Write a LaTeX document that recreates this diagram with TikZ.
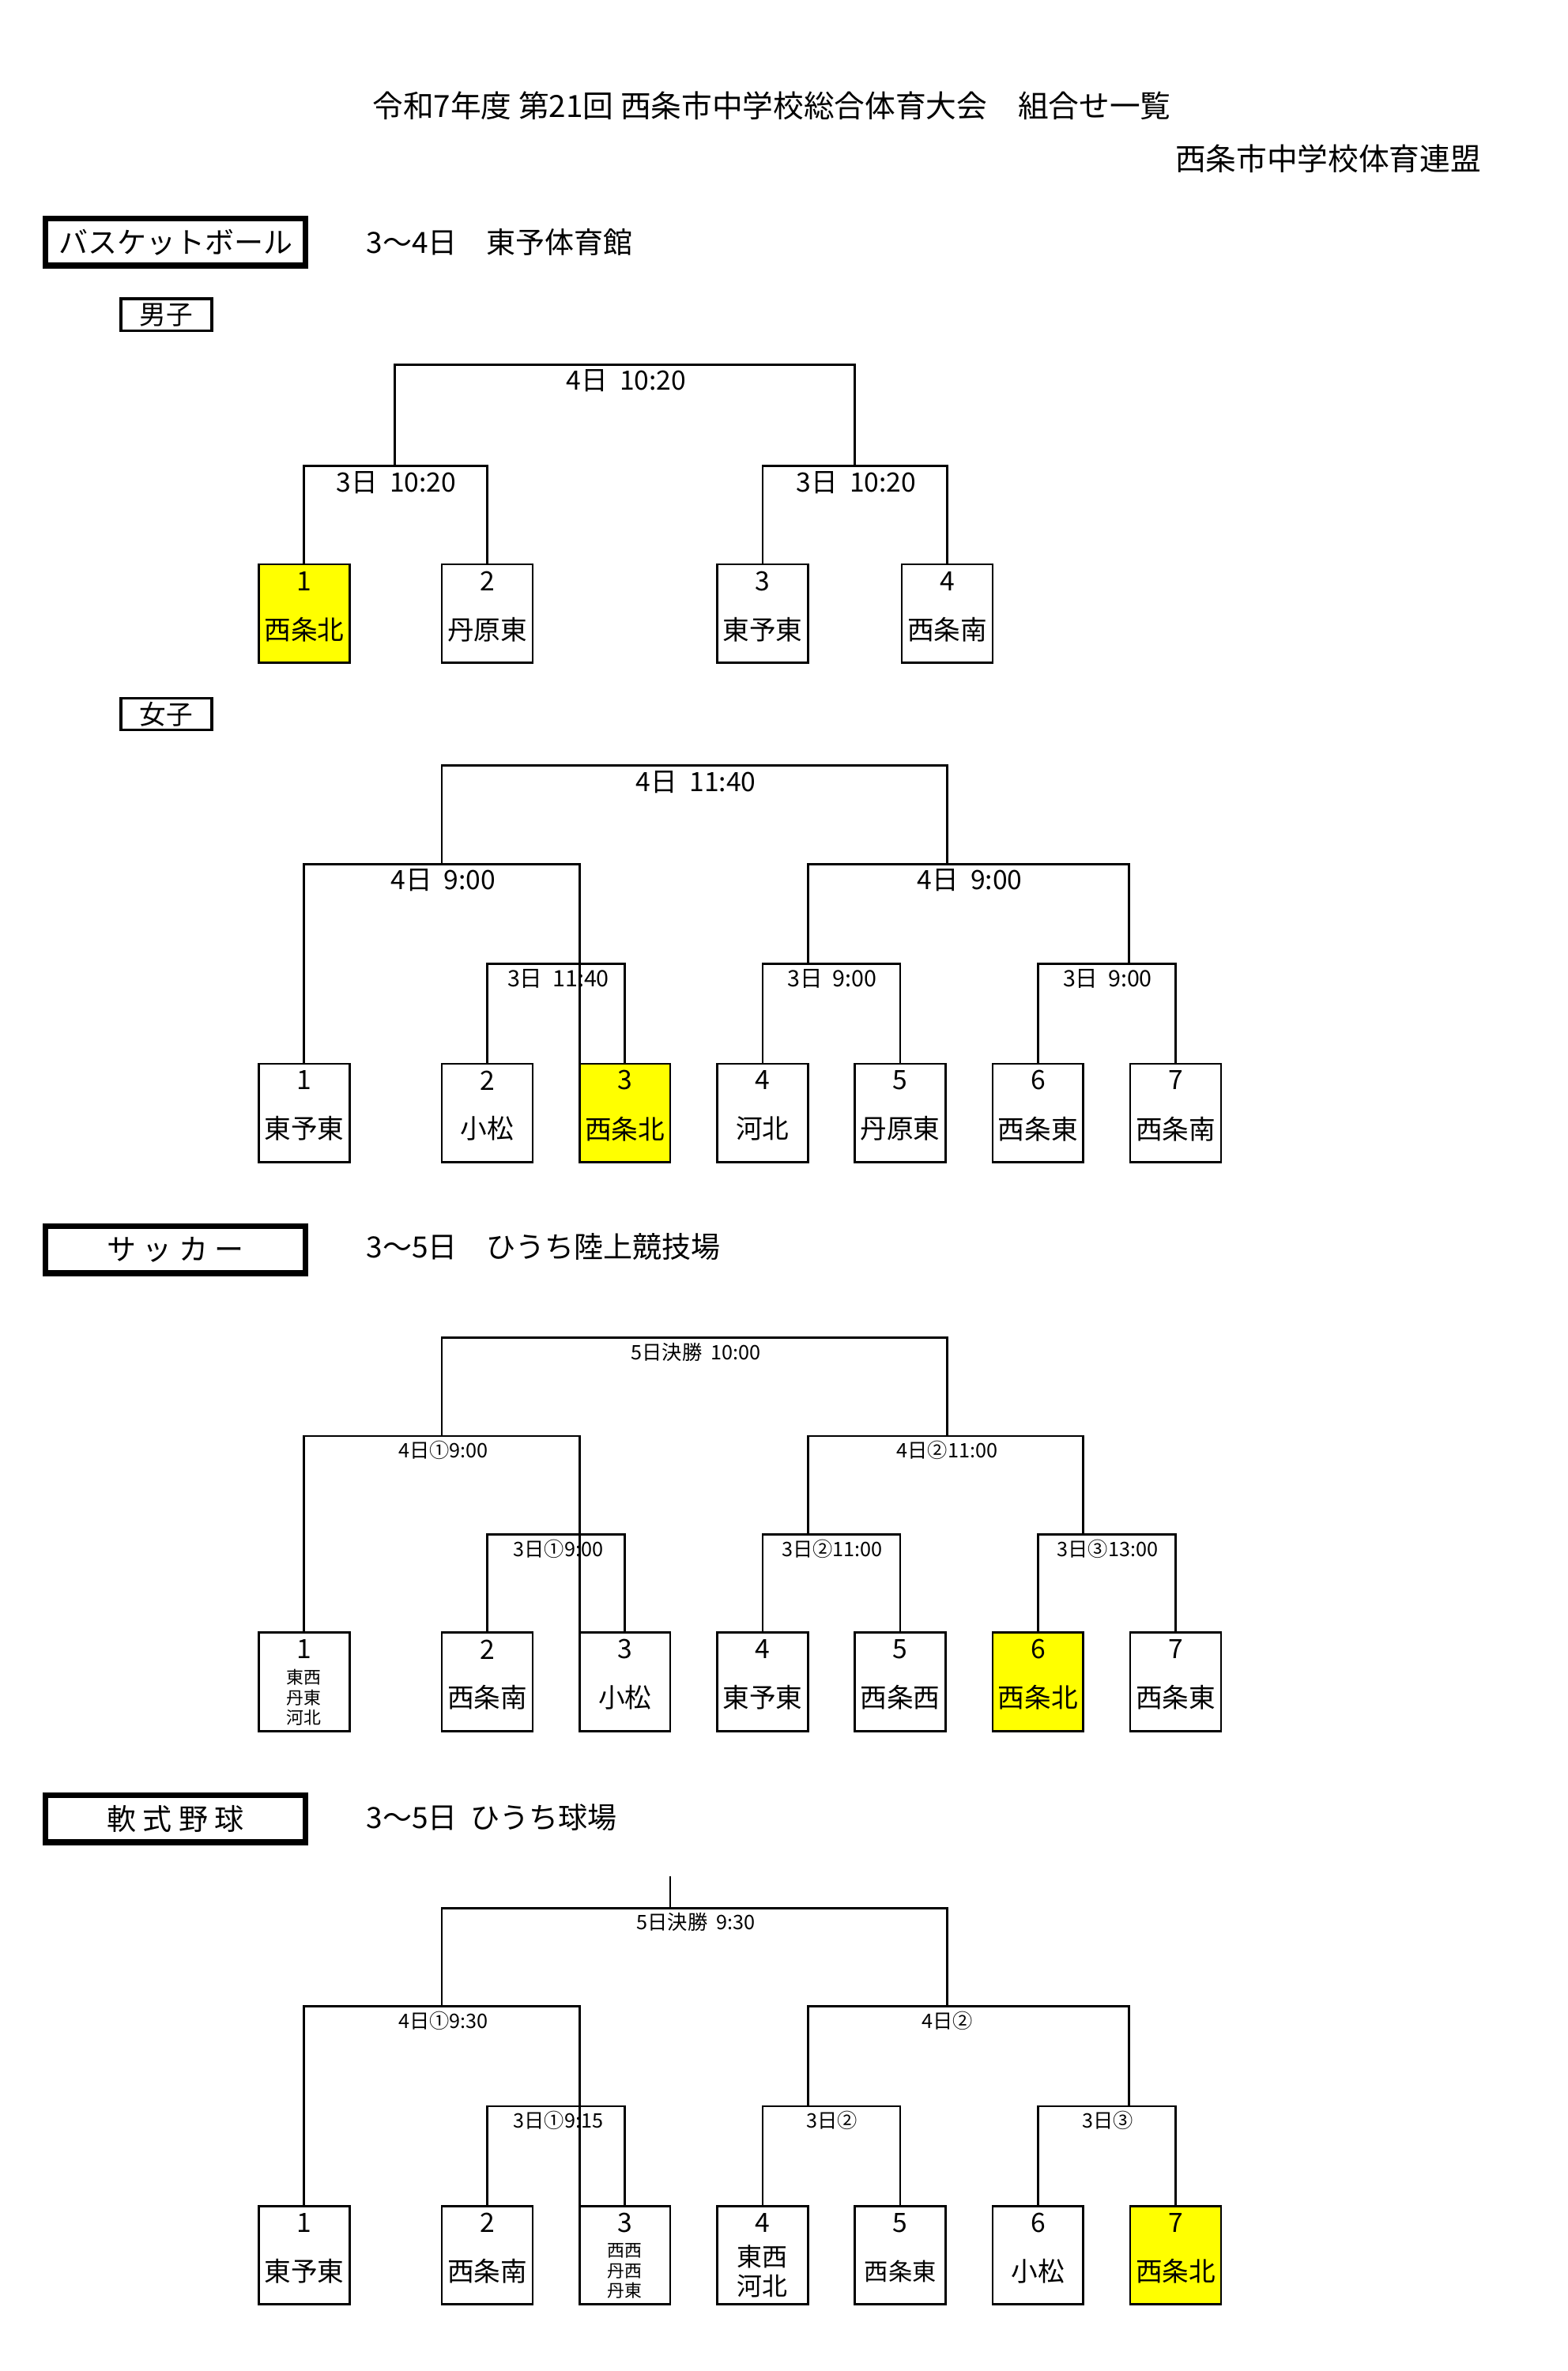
\documentclass[tikz,border=0pt]{standalone}
\usepackage{fontspec}
\setmainfont{Noto Sans CJK JP}
\usetikzlibrary{positioning}
\definecolor{win}{RGB}{255,255,0}
\tikzset{
  line/.style={line width=0.8pt},
  secbox/.style={draw,line width=2.2pt,minimum width=3.44cm,minimum height=0.62cm,inner sep=0pt,font=\fontsize{11}{13}\selectfont},
  sexbox/.style={draw,line width=1pt,minimum width=1.2cm,minimum height=0.42cm,inner sep=0pt,font=\fontsize{10}{12}\selectfont},
  lbl/.style={font=\fontsize{10}{12}\selectfont,inner sep=0pt},
  slbl/.style={font=\fontsize{7.5}{9}\selectfont,inner sep=0pt}
}
% leaf box: name, x, top y, number, team, fill
\newcommand{\leafbox}[6]{%
  \draw[line,fill=#6] (#2-30,#3) rectangle (#2+30,#3+65);
  \node[lbl] (#1n) at (#2,#3+11) {#4};
  \node[lbl,align=center] (#1) at (#2,#3+43) {#5};}
% bracket: left x, right x, top y, bottom y
\newcommand{\brk}[4]{\draw[line] (#1,#4) -- (#1,#3) -- (#2,#3) -- (#2,#4);}
\begin{document}
\begin{tikzpicture}[x=0.02cm,y=-0.02cm]
\useasboundingbox (0,0) rectangle (1036,1567);
\node[font=\fontsize{11.5}{14}\selectfont] (title) at (510,70) {令和7年度\ 第21回\ 西条市中学校総合体育大会\quad 組合せ一覧};
\node[font=\fontsize{11.5}{14}\selectfont,anchor=east] (org) at (985,105) {西条市中学校体育連盟};
% basketball
\node[secbox] (bb) at (116,160) {バスケットボール};
\node[font=\fontsize{11}{13}\selectfont,anchor=west] (bbv) at (236,160) {3〜4日\quad 東予体育館};
\node[sexbox] (men) at (110,208) {男子};
\brk{261}{565}{241}{308}
\node[lbl,anchor=north] (m0) at (414,244) {4日\ \ 10:20};
\brk{201}{322}{308}{373}
\node[lbl,anchor=north] (m1) at (262,311) {3日\ \ 10:20};
\brk{504}{626}{308}{373}
\node[lbl,anchor=north] (m2) at (566,311) {3日\ \ 10:20};
\leafbox{ma}{201}{373}{1}{西条北}{win}
\leafbox{mb}{322}{373}{2}{丹原東}{white}
\leafbox{mc}{504}{373}{3}{東予東}{white}
\leafbox{md}{626}{373}{4}{西条南}{white}
\node[sexbox] (women) at (110,472) {女子};
\brk{292}{626}{506}{571}
\node[lbl,anchor=north] (w0) at (460,509) {4日\ \ 11:40};
\brk{201}{383}{571}{703}
\node[lbl,anchor=north] (w1) at (293,574) {4日\ \ 9:00};
\brk{534}{746}{571}{637}
\node[lbl,anchor=north] (w2) at (641,574) {4日\ \ 9:00};
\brk{322}{413}{637}{703}
\node[slbl,font=\fontsize{8.5}{10}\selectfont,anchor=north] (w3) at (369,640) {3日\ \ 11:40};
\brk{504}{595}{637}{703}
\node[slbl,font=\fontsize{8.5}{10}\selectfont,anchor=north] (w4) at (550,640) {3日\ \ 9:00};
\brk{686}{777}{637}{703}
\node[slbl,font=\fontsize{8.5}{10}\selectfont,anchor=north] (w5) at (732,640) {3日\ \ 9:00};
\leafbox{wa}{201}{703}{1}{東予東}{white}
\leafbox{wb}{322}{703}{2}{小松}{white}
\leafbox{wc}{413}{703}{3}{西条北}{win}
\leafbox{wd}{504}{703}{4}{河北}{white}
\leafbox{we}{595}{703}{5}{丹原東}{white}
\leafbox{wf}{686}{703}{6}{西条東}{white}
\leafbox{wg}{777}{703}{7}{西条南}{white}
% soccer
\node[secbox] (sc) at (116,826) {サ\ ッ\ カ\ ー};
\node[font=\fontsize{11}{13}\selectfont,anchor=west] (scv) at (236,824) {3〜5日\quad ひうち陸上競技場};
\brk{292}{626}{884}{949}
\node[slbl,anchor=north] (s0) at (460,887) {5日決勝\ \ 10:00};
\brk{201}{383}{949}{1079}
\node[slbl,anchor=north] (s1) at (293,952) {4日①9:00};
\brk{534}{716}{949}{1014}
\node[slbl,anchor=north] (s2) at (626,952) {4日②11:00};
\brk{322}{413}{1014}{1079}
\node[slbl,anchor=north] (s3) at (369,1017) {3日①9:00};
\brk{504}{595}{1014}{1079}
\node[slbl,anchor=north] (s4) at (550,1017) {3日②11:00};
\brk{686}{777}{1014}{1079}
\node[slbl,anchor=north] (s5) at (732,1017) {3日③13:00};
\draw[line] (171,1079) rectangle (231,1144);
\node[lbl] (sa1) at (201,1090) {1};
\node[slbl,align=center,font=\fontsize{6.5}{7.6}\selectfont] (sa) at (201,1122) {東西\\丹東\\河北};
\leafbox{sb}{322}{1079}{2}{西条南}{white}
\leafbox{sc3}{413}{1079}{3}{小松}{white}
\leafbox{sd}{504}{1079}{4}{東予東}{white}
\leafbox{se}{595}{1079}{5}{西条西}{white}
\leafbox{sf}{686}{1079}{6}{西条北}{win}
\leafbox{sg}{777}{1079}{7}{西条東}{white}
% baseball
\node[secbox] (bs) at (116,1202) {軟\ 式\ 野\ 球};
\node[font=\fontsize{11}{13}\selectfont,anchor=west] (bsv) at (236,1201) {3〜5日\ \ ひうち球場};
\draw[line] (443,1240) -- (443,1261);
\brk{292}{626}{1261}{1326}
\node[slbl,anchor=north] (b0) at (460,1264) {5日決勝\ \ 9:30};
\brk{201}{383}{1326}{1458}
\node[slbl,anchor=north] (b1) at (293,1329) {4日①9:30};
\brk{534}{746}{1326}{1392}
\node[slbl,anchor=north] (b2) at (626,1329) {4日②};
\brk{322}{413}{1392}{1458}
\node[slbl,anchor=north] (b3) at (369,1395) {3日①9:15};
\brk{504}{595}{1392}{1458}
\node[slbl,anchor=north] (b4) at (550,1395) {3日②};
\brk{686}{777}{1392}{1458}
\node[slbl,anchor=north] (b5) at (732,1395) {3日③};
\leafbox{ba}{201}{1458}{1}{東予東}{white}
\leafbox{bb2}{322}{1458}{2}{西条南}{white}
\draw[line] (383,1458) rectangle (443,1523);
\node[lbl] (bc1) at (413,1469) {3};
\node[slbl,align=center,font=\fontsize{6.5}{7.6}\selectfont] (bc) at (413,1501) {西西\\丹西\\丹東};
\draw[line] (474,1458) rectangle (534,1523);
\node[lbl] (bd1) at (504,1469) {4};
\node[lbl,align=center,font=\fontsize{9.5}{11}\selectfont] (bd) at (504,1501) {東西\\河北};
\leafbox{be}{595}{1458}{5}{\fontsize{9}{11}\selectfont 西条東}{white}
\leafbox{bf}{686}{1458}{6}{小松}{white}
\leafbox{bg}{777}{1458}{7}{西条北}{win}
\end{tikzpicture}
\end{document}
